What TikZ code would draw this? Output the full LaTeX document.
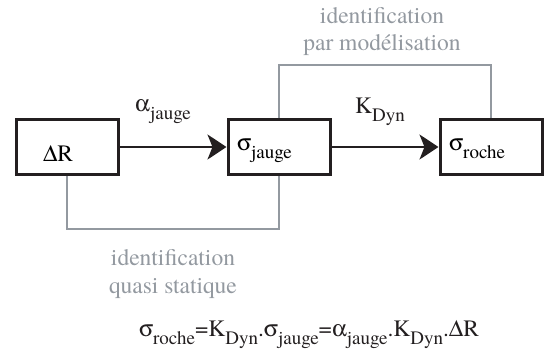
\documentclass[tikz,border=0pt]{standalone}
\usepackage{fontspec}
\setmainfont{texgyretermes-regular.otf}[BoldFont=texgyretermes-bold.otf,
  ItalicFont=texgyretermes-italic.otf]
\usepackage{xcolor}
\definecolor{idblack}{HTML}{231F20}
\definecolor{idgray}{HTML}{9399A0}
\usetikzlibrary{arrows.meta, positioning}
\newcommand{\idx}[1]{\raisebox{-0.36em}{\fontsize{19}{19}\selectfont #1}}
\newcommand{\grk}[1]{{\fontencoding{U}\fontfamily{psy}\selectfont #1}}

\begin{document}
\begin{tikzpicture}[
  x=1pt, y=-1pt,
  font=\rmfamily\fontsize{23.5}{27.5}\selectfont,
  node distance=107pt,
  bloc/.style={rectangle, draw=idblack, line width=3pt,
    minimum width=102pt, minimum height=55pt,
    inner xsep=9pt, inner ysep=0pt, text width=84pt, align=left,
    text height=30pt, text depth=24pt},
  arr/.style={-{Stealth[length=19pt, width=25pt, inset=5pt]},
    line width=2pt, color=idblack},
  ident/.style={line width=2pt, color=idgray},
  lbl/.style={text=idblack},
  note/.style={text=idgray, align=center}
]
  \useasboundingbox (0,0) rectangle (544,354);

  \node[bloc, text width=48pt, inner xsep=27pt, text depth=2pt] (dR) at (67,147) {\grk{D}R};
  \node[bloc, right=of dR] (jauge) {\grk{s}\idx{jauge}};
  \node[bloc, right=of jauge] (roche) {\grk{s}\idx{roche}};

  \draw[arr] (dR) -- node[lbl, above=19pt, xshift=-10pt] {\grk{a}\idx{jauge}} (jauge);
  \draw[arr] (jauge) -- node[lbl, above=17pt, xshift=-5pt] {K\idx{Dyn}} (roche);

  % chemins d'identification
  \draw[ident] (jauge.north) -- ++(0,-53) -| node[note, pos=0.25, above=5pt, xshift=-3pt]
    {identification\\par modélisation} (roche.north);
  \draw[ident] (dR.south) -- ++(0,52.5) -| node[note, pos=0.25, below=17pt]
    {identification\\quasi statique} (jauge.south);

  \node[lbl, anchor=base] (eq) at (309,336)
    {\grk{s}\idx{roche}=K\idx{Dyn}.\grk{s}\idx{jauge}=\grk{a}\idx{jauge}.K\idx{Dyn}.\grk{D}R};
\end{tikzpicture}
\end{document}
